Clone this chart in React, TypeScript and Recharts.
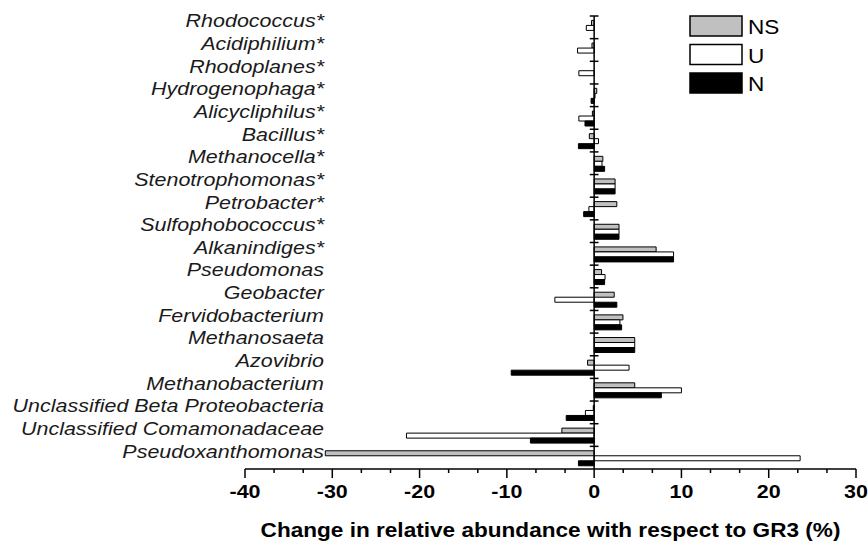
import { BarChart, Bar, XAxis, YAxis, ReferenceLine, Legend } from "recharts";

const genera = [
  "Rhodococcus*",
  "Acidiphilium*",
  "Rhodoplanes*",
  "Hydrogenophaga*",
  "Alicycliphilus*",
  "Bacillus*",
  "Methanocella*",
  "Stenotrophomonas*",
  "Petrobacter*",
  "Sulfophobococcus*",
  "Alkanindiges*",
  "Pseudomonas",
  "Geobacter",
  "Fervidobacterium",
  "Methanosaeta",
  "Azovibrio",
  "Methanobacterium",
  "Unclassified Beta Proteobacteria",
  "Unclassified Comamonadaceae",
  "Pseudoxanthomonas",
];

const seriesNames = ["NS", "U", "N"];

// change in relative abundance (%) per treatment
const nsChange = [-0.3, -0.25, 0, 0.3, -0.2, -0.55, 1.0, 2.4, 2.6, 2.85, 7.1, 0.85, 2.3, 3.3, 4.65, -0.75, 4.65, -0.1, -3.7, -30.8];
const uChange = [-0.9, -1.9, -1.75, 0.1, -1.75, 0.5, 0.9, 2.4, -0.6, 2.85, 9.1, 1.25, -4.5, 2.95, 4.65, 4.0, 10.0, -1.0, -21.5, 23.6];
const nChange = [0, 0, 0, -0.35, -1.05, -1.8, 1.2, 2.4, -1.2, 2.85, 9.1, 1.2, 2.6, 3.15, 4.65, -9.5, 7.7, -3.2, -7.3, -1.8];

const xTicks = [
  -40, -36.67, -33.33, -30, -26.67, -23.33, -20, -16.67, -13.33, -10, -6.67, -3.33,
  0, 3.33, 6.67, 10, 13.33, 16.67, 20, 23.33, 26.67, 30,
];
const xMajorTicks = [-40, -30, -20, -10, 0, 10, 20, 30];

const data = genera.map((name, i) => ({
  name,
  NS: nsChange[i],
  U: uChange[i],
  N: nChange[i],
}));

const FONT = '"Liberation Sans", Arial, sans-serif';
const STRETCH = "scale(1.13,1)";

function GenusTick({ x, y, payload }: any) {
  return (
    <text
      transform={`translate(${x + 79},${y}) ${STRETCH}`}
      textAnchor="end"
      fontFamily={FONT}
      fontStyle="italic"
      fontSize={19}
      fill="#1a1a1a"
    >
      {payload.value}
    </text>
  );
}

function ValueTick({ x, y, payload }: any) {
  const major = xMajorTicks.includes(payload.value);
  return (
    <g>
      <line x1={x} x2={x} y1={y} y2={y + (major ? 9 : 4)} stroke="#000" strokeWidth={1.5} />
      {major && (
        <text
          transform={`translate(${x},${y + 29}) ${STRETCH}`}
          textAnchor="middle"
          fontFamily={FONT}
          fontWeight="bold"
          fontSize={19}
          fill="#000"
        >
          {payload.value}
        </text>
      )}
    </g>
  );
}

function AxisTitle({ viewBox }: any) {
  return (
    <text
      transform={`translate(${viewBox.x + viewBox.width / 2},${viewBox.y + 68}) ${STRETCH}`}
      textAnchor="middle"
      fontFamily={FONT}
      fontWeight="bold"
      fontSize={20}
      fill="#000"
    >
      Change in relative abundance with respect to GR3 (%)
    </text>
  );
}

function LegendBoxes({ payload }: any) {
  const items = seriesNames
    .map((n) => (payload ?? []).find((e: any) => e.value === n))
    .filter(Boolean);
  return (
    <svg width={868} height={100}>
      {items.map((entry: any, i: number) => (
        <g key={entry.value}>
          <rect
            x={690}
            y={16 + i * 28.5}
            width={52}
            height={20}
            fill={entry.color}
            stroke="#000"
            strokeWidth={1.5}
          />
          <text
            transform={`translate(748,${34 + i * 28.5}) ${STRETCH}`}
            fontFamily={FONT}
            fontSize={20}
            fill="#000"
          >
            {entry.value}
          </text>
        </g>
      ))}
    </svg>
  );
}

export default function App() {
  return (
    <div style={{ position: "absolute", left: 0, top: 0, width: 868, height: 544, background: "#fff" }}>
      <BarChart
        width={868}
        height={544}
        data={data}
        layout="vertical"
        margin={{ top: 16, right: 12, bottom: 0, left: 0 }}
        barCategoryGap="19.5%"
        barGap={0}
      >
        <XAxis
          type="number"
          domain={[-40, 30]}
          ticks={xTicks}
          interval={0}
          tickSize={0}
          tickMargin={0}
          tickLine={false}
          tick={(p: any) => <ValueTick {...p} />}
          axisLine={{ stroke: "#000", strokeWidth: 1.5 }}
          height={75}
          label={{ content: (p: any) => <AxisTitle {...p} /> }}
        />
        <YAxis
          type="category"
          dataKey="name"
          width={245}
          interval={0}
          tickSize={0}
          tickMargin={0}
          tickLine={false}
          axisLine={false}
          tick={(p: any) => <GenusTick {...p} />}
        />
        <Legend
          layout="vertical"
          align="center"
          verticalAlign="middle"
          content={(p: any) => <LegendBoxes {...p} />}
          wrapperStyle={{ top: 0, left: 0, width: 868, height: 100 }}
        />
        <Bar dataKey="NS" name={seriesNames[0]} fill="#c0c0c0" stroke="#000" strokeWidth={1} isAnimationActive={false} />
        <Bar dataKey="U" name={seriesNames[1]} fill="#ffffff" stroke="#000" strokeWidth={1} isAnimationActive={false} />
        <Bar dataKey="N" name={seriesNames[2]} fill="#000000" stroke="#000" strokeWidth={1} isAnimationActive={false} />
        <ReferenceLine x={0} stroke="#000" strokeWidth={1.5} />
        {genera.map((g) => (
          <ReferenceLine
            key={g}
            segment={[
              { x: -0.5, y: g },
              { x: 0.5, y: g },
            ]}
            position="start"
            stroke="#000"
            strokeWidth={1.5}
          />
        ))}
      </BarChart>
    </div>
  );
}
